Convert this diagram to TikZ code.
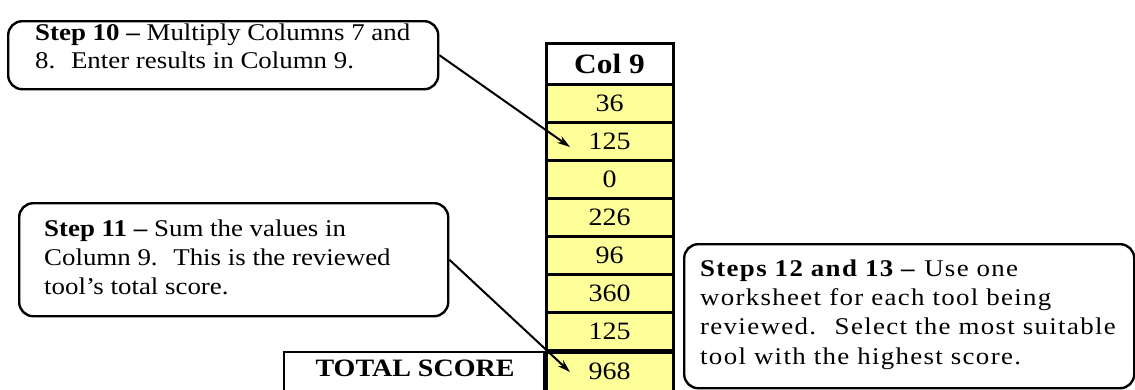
\documentclass[tikz,border=0pt]{standalone}
\usepackage{fontspec}
\setmainfont{Liberation Serif}[FakeStretch=1.12]
\newfontfamily\trackedfont{Liberation Serif}[FakeStretch=1.12, LetterSpace=5.5]
\usetikzlibrary{arrows.meta}
\definecolor{cellyellow}{HTML}{FFFF99}
\tikzset{
  callout/.style={draw=black, line width=2.4pt, rounded corners=14pt, fill=white, inner sep=0pt},
  note/.style={anchor=base west, align=left, inner sep=0pt, font=\fontsize{24}{29}\selectfont},
  cell/.style={draw=black, line width=3pt, fill=cellyellow, minimum width=127pt,
    minimum height=38.1pt, inner sep=0pt, font=\fontsize{25}{28}\selectfont},
  headcell/.style={cell, fill=white, minimum height=41pt, font=\fontsize{28}{32}\selectfont\bfseries},
  pointer/.style={line width=2pt, -{Stealth[length=13pt,width=8pt]}}
}
\begin{document}
\begin{tikzpicture}[x=1pt,y=-1pt]
  \useasboundingbox (0,0) rectangle (1135,389);
  \clip (0,0) rectangle (1135,389);

  % column 9 with its header and cells
  \node[headcell] (head) at (609.5,63.5) {Col 9};
  \foreach \v [count=\i] in {36,125,0,226,96,360,125} {
    \node[cell] (c\i) at (609.5,{84+38.1*(\i-0.5)}) {\v};
  }
  % last cell runs on below the page edge
  \node[cell, anchor=north, minimum height=60pt, text depth=22pt] (c8) at (609.5,350.7) {968};

  % total score label box
  \node[draw=black, line width=2.2pt, anchor=north east, minimum width=261pt,
        minimum height=60pt, inner sep=0pt] (total) at (546,351) {};
  \node[anchor=base, inner sep=0pt, font=\fontsize{25}{28}\selectfont\bfseries]
        (totaltext) at (415,376) {TOTAL SCORE};
  \draw[line width=3pt] (c8.north west) -- (c8.south west);

  % callout boxes
  \node[callout, anchor=north west, minimum width=430pt, minimum height=68pt] (s10) at (7,20) {};
  \node[note, font=\fontsize{24}{28}\selectfont] (t10) at (35,68)
    {\textbf{Step 10 –} Multiply Columns 7 and\\8.~ Enter results in Column 9.};

  \node[callout, anchor=north west, minimum width=429pt, minimum height=113pt] (s11) at (18,202) {};
  \node[note] (t11) at (44,294)
    {\textbf{Step 11 –} Sum the values in\\Column 9.~ This is the reviewed\\tool’s total score.};

  \node[callout, anchor=north west, minimum width=450pt, minimum height=144pt] (s12) at (683,243) {};
  \node[note, font=\fontsize{24}{29.3}\trackedfont] (t12) at (700,364)
    {\textbf{Steps 12 and 13 –} Use one\\worksheet for each tool being\\reviewed.~ Select the most suitable\\tool with the highest score.};

  % pointers into the column
  \coordinate (p10) at (570,147);
  \coordinate (p11) at (570,372);
  \draw[pointer] (s10.east) -- (p10);
  \draw[pointer] (s11.east) -- (p11);
\end{tikzpicture}
\end{document}
